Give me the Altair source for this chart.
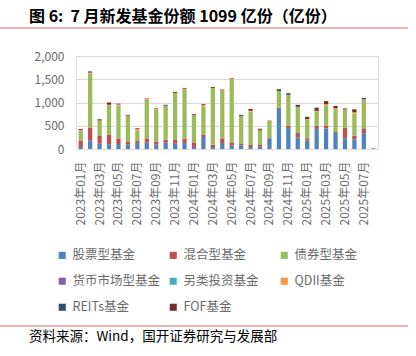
import altair as alt
import pandas as pd

months = ["2023年01月", "2023年02月", "2023年03月", "2023年04月", "2023年05月", "2023年06月",
          "2023年07月", "2023年08月", "2023年09月", "2023年10月", "2023年11月", "2023年12月",
          "2024年01月", "2024年02月", "2024年03月", "2024年04月", "2024年05月", "2024年06月",
          "2024年07月", "2024年08月", "2024年09月", "2024年10月", "2024年11月", "2024年12月",
          "2025年01月", "2025年02月", "2025年03月", "2025年04月", "2025年05月", "2025年06月",
          "2025年07月", "2025年08月"]

stock = [43, 178, 114, 100, 107, 100, 128, 135, 93, 136, 114, 128,
         43, 257, 43, 128, 71, 78, 43, 50, 228, 862, 450, 250,
         185, 433, 440, 343, 232, 208, 340, 0]
mixed = [140, 286, 164, 214, 121, 50, 43, 93, 71, 64, 79, 93,
         100, 57, 50, 100, 72, 43, 43, 36, 22, 30, 43, 93,
         45, 72, 60, 21, 228, 79, 105, 10]
bond = [215, 1164, 322, 629, 707, 564, 229, 829, 686, 728, 1014, 1057,
        578, 607, 1221, 1022, 1357, 586, 721, 307, 350, 355, 671, 557,
        410, 300, 440, 493, 380, 478, 600, 0]
money = [0, 0, 0, 0, 0, 0, 0, 0, 0, 0, 0, 0,
         15, 0, 0, 0, 0, 0, 0, 8, 0, 0, 0, 0,
         0, 0, 0, 0, 0, 0, 10, 0]
alternative = [0, 0, 0, 0, 0, 0, 0, 0, 0, 0, 0, 0,
               0, 0, 0, 0, 0, 0, 0, 0, 6, 0, 0, 0,
               0, 0, 0, 0, 0, 0, 0, 0]
qdii = [10, 15, 15, 10, 25, 0, 30, 20, 18, 0, 0, 20,
        0, 25, 0, 13, 15, 0, 15, 0, 15, 0, 0, 0,
        5, 15, 25, 20, 10, 25, 14, 0]
reits = [0, 0, 0, 0, 0, 10, 0, 0, 0, 7, 0, 0,
         0, 0, 0, 0, 0, 20, 0, 20, 0, 25, 16, 20,
         0, 0, 0, 0, 0, 0, 30, 0]
fof = [20, 25, 25, 45, 15, 10, 15, 10, 10, 15, 21, 15,
       15, 15, 20, 15, 13, 8, 40, 15, 0, 15, 20, 30,
       45, 70, 65, 50, 22, 65, 0, 5]

series_names = ["股票型基金", "混合型基金", "债券型基金", "货币市场型基金",
                "另类投资基金", "QDII基金", "REITs基金", "FOF基金"]
series_colors = ["#4F81BD", "#C0504D", "#9BBB59", "#8064A2",
                 "#4BACC6", "#F79646", "#2C4D75", "#772C2A"]
series_values = [stock, mixed, bond, money, alternative, qdii, reits, fof]

title_text = "图 6:\u00a0\u00a07 月新发基金份额 1099 亿份（亿份）"
source_text = "资料来源：Wind，国开证券研究与发展部"

rows = []
for k, (name, vals) in enumerate(zip(series_names, series_values)):
    for m, v in zip(months, vals):
        rows.append({"month": m, "series": name, "value": v, "idx": k})
df = pd.DataFrame(rows)

FONT = "Noto Sans CJK SC"
LEFT, TOP = 76, 56
W, H = 302, 93

bars = alt.Chart(df).mark_bar().encode(
    x=alt.X("month:N", sort=months,
            scale=alt.Scale(domain=months, paddingInner=0.55, paddingOuter=0.275),
            axis=alt.Axis(values=months[::2], labelAngle=-90, ticks=False, labelPadding=12,
                          title=None, domainColor="#D9D9D9", labelColor="#6B6B6B",
                          labelFontSize=12, labelFont=FONT)),
    y=alt.Y("value:Q", stack="zero",
            scale=alt.Scale(domain=[0, 2000], nice=False),
            axis=alt.Axis(values=[0, 500, 1000, 1500, 2000], format=",.0f", title=None,
                          ticks=False, domain=False, labelPadding=12, labelColor="#6B6B6B",
                          labelFontSize=12, labelFont=FONT, gridColor="#D9D9D9")),
    color=alt.Color("series:N",
                    scale=alt.Scale(domain=series_names, range=series_colors),
                    legend=alt.Legend(title=None, orient="none", legendX=-20, legendY=193,
                                      direction="horizontal",
                                      columns=3, gridAlign="all", symbolType="square",
                                      symbolSize=50, symbolStrokeWidth=0, labelFontSize=12.5,
                                      labelColor="#6B6B6B", labelFont=FONT, columnPadding=6,
                                      rowPadding=13, labelLimit=200, labelOffset=4)),
    order=alt.Order("idx:Q", sort="ascending"),
)

one = pd.DataFrame({"t": [title_text], "s": [source_text]})

title = alt.Chart(one).mark_text(align="left", baseline="middle", fontSize=16,
                                  fontWeight="bold", font=FONT, color="#000000").encode(
    x=alt.value(29 - LEFT), y=alt.value(17 - TOP), text="t:N")

source = alt.Chart(one).mark_text(align="left", baseline="middle", fontSize=13.5,
                                   font=FONT, color="#000000").encode(
    x=alt.value(29 - LEFT), y=alt.value(337 - TOP), text="s:N")

rule_top = alt.Chart(one).mark_rule(color="#E06666", strokeWidth=1.2).encode(
    x=alt.value(-LEFT), x2=alt.value(408 - LEFT), y=alt.value(28 - TOP))
rule_bot = alt.Chart(one).mark_rule(color="#E06666", strokeWidth=1.2).encode(
    x=alt.value(-LEFT), x2=alt.value(408 - LEFT), y=alt.value(326 - TOP))

chart = alt.layer(bars, title, source, rule_top, rule_bot).properties(
    width=W, height=H,
    autosize=alt.AutoSizeParams(type="none"),
    padding={"left": LEFT, "top": TOP, "right": 416 - LEFT - W, "bottom": 356 - TOP - H},
).configure_view(stroke=None).configure(background="white")

chart.save("out.html", embed_options={"renderer": "svg", "actions": False})
